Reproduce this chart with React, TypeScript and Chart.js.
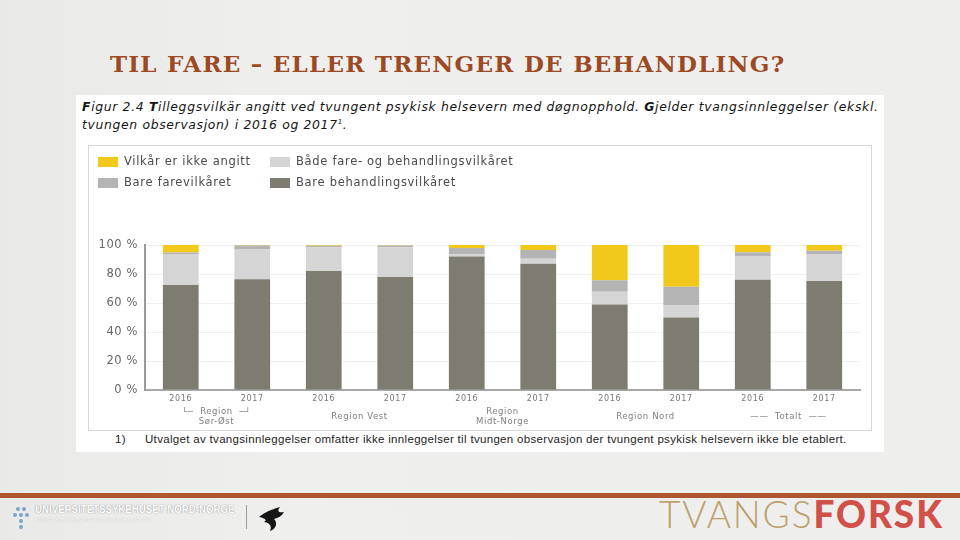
import React, { useEffect, useRef } from "react";
import { Chart, registerables } from "chart.js";

Chart.register(...registerables);

const years = ["2016", "2017", "2016", "2017", "2016", "2017", "2016", "2017", "2016", "2017"];
const groups: (string | string[])[] = [
  ["└─  Region  ─┘", "Sør-Øst"],
  "Region Vest",
  ["Region", "Midt-Norge"],
  "Region Nord",
  "——  Totalt  ——",
];
const bareBehandling = [72.5, 76.3, 82, 78, 92, 87, 59, 50, 76, 75.2];
const begge = [21.3, 21, 16.4, 20.4, 1.5, 3.5, 8.7, 8.2, 16, 18.3];
const bareFare = [1, 2.4, 1.1, 1.3, 4.5, 6, 8, 13, 3, 2.5];
const ikkeAngitt = [5.2, 0.3, 0.5, 0.3, 2, 3.5, 24.3, 28.8, 5, 4];
const yTicks = [0, 20, 40, 60, 80, 100];

const legendOrder = [3, 1, 2, 0];

const FONT = "'DejaVu Sans', Verdana, sans-serif";

const spacingPlugin = {
  id: "spacing",
  beforeDraw(chart: any) {
    chart.ctx.letterSpacing = "0.6px";
  },
};

const legendPlugin = {
  id: "gridLegend",
  afterDraw(chart: any) {
    const ctx = chart.ctx;
    const ds = chart.data.datasets;
    const cols = [9, 181];
    const rows = [11, 32];
    ctx.save();
    ctx.letterSpacing = "0.7px";
    ctx.font = `11.5px ${FONT}`;
    ctx.textBaseline = "middle";
    legendOrder.forEach((idx, i) => {
      const x = cols[i % 2];
      const y = rows[Math.floor(i / 2)];
      ctx.fillStyle = ds[idx].backgroundColor;
      ctx.fillRect(x, y, 20, 10);
      ctx.fillStyle = "#4a4a4a";
      ctx.fillText(ds[idx].label, x + 26, y + 5.5);
    });
    ctx.restore();
  },
};

function ChartBox() {
  const ref = useRef<HTMLCanvasElement>(null);
  useEffect(() => {
    if (!ref.current) return;
    const chart = new Chart(ref.current, {
      type: "bar",
      data: {
        labels: years,
        datasets: [
          { label: "Bare behandlingsvilkåret", data: bareBehandling, backgroundColor: "#7e7b71" },
          { label: "Både fare- og behandlingsvilkåret", data: begge, backgroundColor: "#d5d5d5" },
          { label: "Bare farevilkåret", data: bareFare, backgroundColor: "#b4b4b4" },
          { label: "Vilkår er ikke angitt", data: ikkeAngitt, backgroundColor: "#f2c81b" },
        ],
      },
      options: {
        animation: false,
        responsive: false,
        devicePixelRatio: 1,
        layout: { padding: { top: 99, right: 11, left: 0, bottom: 0 } },
        plugins: { legend: { display: false }, tooltip: { enabled: false } },
        datasets: { bar: { barPercentage: 0.5, categoryPercentage: 1 } },
        scales: {
          x: {
            stacked: true,
            offset: true,
            weight: 1,
            grid: { display: false, drawTicks: false },
            border: { display: true, color: "#a8a8a8", width: 2 },
            ticks: { font: { family: FONT, size: 8 }, color: "#777", padding: 4 },
            afterFit: (s: any) => { s.height = 17; },
          } as any,
          x2: {
            type: "category",
            labels: groups as any,
            position: "bottom",
            offset: true,
            weight: 2,
            grid: { display: false, drawTicks: false },
            border: { display: false },
            ticks: { font: { family: FONT, size: 8.5 }, color: "#808080", padding: 5, crossAlign: "center" } as any,
            afterFit: (s: any) => { s.height = 23; },
          } as any,
          y: {
            stacked: true,
            min: 0,
            max: 100,
            afterBuildTicks: (s: any) => { s.ticks = yTicks.map((v) => ({ value: v })); },
            grid: { color: "#f0f0f0", tickLength: 0 },
            border: { display: true, color: "#9a9a9a", width: 2 },
            ticks: {
              font: { family: FONT, size: 11.5 },
              color: "#666",
              padding: 7,
              callback: (v: any) => `${v} %`,
            },
            afterFit: (s: any) => { s.width = 56; },
          },
        },
      },
      plugins: [spacingPlugin, legendPlugin],
    });
    return () => chart.destroy();
  }, []);
  return <canvas ref={ref} width={782} height={284} style={{ display: "block", width: 782, height: 284 }} />;
}

function Bird() {
  return (
    <svg width="34" height="30" viewBox="0 0 34 30" style={{ position: "absolute", left: 256, top: 503 }}>
      <path d="M3 14 C10 8 18 6 24 4 C21 8 22 10 28 9 C26 13 22 15 18 16 C22 20 20 26 14 28 C16 23 14 20 8 19 C12 17 8 15 3 14 Z" fill="#151515" />
      <circle cx="24" cy="7" r="1" fill="#fff" />
    </svg>
  );
}

export default function App() {
  return (
    <div
      style={{
        position: "fixed",
        left: 0,
        top: 0,
        width: 960,
        height: 540,
        overflow: "hidden",
        background: "linear-gradient(90deg, #e9e9e7 0%, #efefed 30%, #eeeeec 100%)",
        fontFamily: FONT,
      }}
    >
      <div
        style={{
          position: "absolute",
          left: 110,
          top: 50,
          fontFamily: "'DejaVu Serif', 'Liberation Serif', serif",
          fontWeight: "bold",
          fontSize: 23,
          color: "#9c4a24",
          whiteSpace: "nowrap",
          letterSpacing: 1.25,
        }}
      >
        TIL FARE – ELLER TRENGER DE BEHANDLING?
      </div>

      <div style={{ position: "absolute", left: 76, top: 95, width: 808, height: 357, background: "#fff" }} />

      <div
        style={{
          position: "absolute",
          left: 82,
          top: 99,
          width: 800,
          fontStyle: "italic",
          fontSize: 12.4,
          lineHeight: "15.5px",
          letterSpacing: 0.66,
          color: "#151515",
          whiteSpace: "nowrap",
        }}
      >
        <div><b>F</b>igur 2.4 <b>T</b>illeggsvilkär angitt ved tvungent psykisk helsevern med døgnopphold. <b>G</b>jelder tvangsinnleggelser (ekskl.</div>
        <div>tvungen observasjon) i 2016 og 2017<sup style={{ fontSize: 7 }}>1</sup>.</div>
      </div>

      <div style={{ position: "absolute", left: 88, top: 145, width: 782, height: 284, border: "1px solid #d9d9d9" }}>
        <ChartBox />
      </div>

      <div
        style={{
          position: "absolute",
          left: 115,
          top: 433,
          fontFamily: "'Liberation Sans', Arial, sans-serif",
          fontSize: 11.5,
          letterSpacing: 0.32,
          color: "#222",
          whiteSpace: "nowrap",
        }}
      >
        <span style={{ display: "inline-block", width: 30 }}>1)</span>
        Utvalget av tvangsinnleggelser omfatter ikke innleggelser til tvungen observasjon der tvungent psykisk helsevern ikke ble etablert.
      </div>

      <div style={{ position: "absolute", left: 0, top: 493, width: 960, height: 5, background: "#b0562e" }} />

      {[
        [16, 507], [22, 507], [13, 513], [19, 513], [25, 513], [19, 519], [19, 525],
      ].map(([x, y], i) => (
        <div key={i} style={{ position: "absolute", left: x, top: y, width: 4, height: 4, borderRadius: 2, background: "#7fa3c8" }} />
      ))}
      <div
        style={{
          position: "absolute",
          left: 35,
          top: 503,
          fontFamily: "'Liberation Sans', sans-serif",
          fontWeight: "bold",
          fontSize: 11,
          color: "#ffffff",
          textShadow: "0 0 1px #9a9a9a, 0 0 1px #9a9a9a",
          whiteSpace: "nowrap",
          transform: "scaleX(0.88)",
          transformOrigin: "left top",
        }}
      >
        UNIVERSITETSSYKEHUSET NORD-NORGE
      </div>
      <div
        style={{
          position: "absolute",
          left: 35,
          top: 517,
          fontFamily: "'Liberation Sans', sans-serif",
          fontSize: 5.5,
          color: "#ffffff",
          textShadow: "0 0 1px #aaa",
          whiteSpace: "nowrap",
        }}
      >
        UNIVERSITY HOSPITAL OF NORTH NORWAY
      </div>
      <div style={{ position: "absolute", left: 246, top: 505, width: 1, height: 24, background: "#9a9a9a" }} />
      <Bird />

      <div
        style={{
          position: "absolute",
          left: 659,
          top: 492,
          fontFamily: "Lato, 'Open Sans', sans-serif",
          fontSize: 37,
          lineHeight: "44px",
          whiteSpace: "nowrap",
          letterSpacing: 1.9,
        }}
      >
        <span style={{ color: "#bca06e", fontWeight: 300 }}>TVANGS</span>
        <span style={{ color: "#d2504a", fontWeight: 900 }}>FORSK</span>
      </div>
    </div>
  );
}
